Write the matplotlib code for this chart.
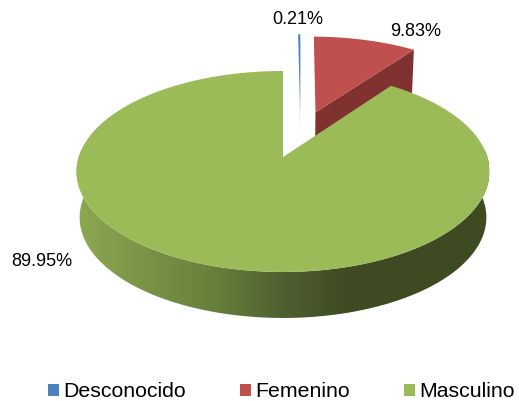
import numpy as np
import matplotlib
matplotlib.use('Agg')
import matplotlib.pyplot as plt
from matplotlib.patches import Polygon, Rectangle

categories = ['Desconocido', 'Femenino', 'Masculino']
shares = [0.21, 9.83, 89.95]
share_labels = ['0.21%', '9.83%', '89.95%']

colors = ['#4F81BD', '#C0504D', '#9BBB59']
side_colors = ['#4F81BD', '#7F3230', '#9BBB59']
gradient_colors = ['#8CA950', '#7A9348', '#66803B', '#4F6030', '#3E4A22', '#3E4A22', '#3E4A22']

plt.rcParams['font.family'] = ['Liberation Sans', 'DejaVu Sans']

# pixel layout
APEX_X, APEX_Y = 283, 157
SCALE_X, SCALE_Y = 204.3, 98.4
PERSP = 0.144
DEPTH = 46
BOTTOM_SHRINK = 0.985
explode = [(0.09, 0.52), (0.17, 0.485), (0.0, 0.0)]
side_depth = [14, DEPTH, DEPTH]


def project(u, v):
    # unit circle in the pie plane -> picture, with some perspective
    d = 1 + PERSP * v
    return APEX_X + SCALE_X * u / d, APEX_Y - SCALE_Y * v / d


def rim(start, end, off, n=200):
    # angles in degrees, clockwise from the top
    t = np.radians(np.linspace(start, end, n))
    return project(off[0] + np.sin(t), off[1] + np.cos(t))


def lower(x, y, depth):
    return APEX_X + (x - APEX_X) * BOTTOM_SHRINK, y + depth


fig = plt.figure(figsize=(5.19, 4.01), dpi=100)
ax = fig.add_axes([0, 0, 1, 1])
ax.set_xlim(0, 519)
ax.set_ylim(401, 0)
ax.axis('off')

angles = np.cumsum([0] + shares) / sum(shares) * 360

# exploded slices first, the big one sits in front of them
for i in [1, 0]:
    off = explode[i]
    x, y = rim(angles[i], angles[i + 1], off)
    ax_, ay_ = project(off[0], off[1])
    # cut face on the far side of the slice
    bx, by = lower(x[-1], y[-1], side_depth[i])
    cx, cy = lower(ax_, ay_, side_depth[i])
    ax.add_patch(Polygon([(ax_, ay_), (x[-1], y[-1]), (bx, by), (cx, cy)],
                         closed=True, fc=side_colors[i], ec='none', zorder=2))
    ax.add_patch(Polygon(np.r_[[[ax_, ay_]], np.c_[x, y]], closed=True,
                         fc=colors[i], ec='none', zorder=3))

# side of the big slice, shaded from left to right
x, y = rim(80, 280, explode[2])
bx, by = lower(x, y, DEPTH)
side_path = Polygon(np.r_[np.c_[bx, by], np.c_[x, y][::-1]], closed=True,
                    fc='none', ec='none', zorder=4)
ax.add_patch(side_path)
grad_cmap = matplotlib.colors.LinearSegmentedColormap.from_list('side', gradient_colors)
grad = ax.imshow(np.linspace(0, 1, 256).reshape(1, -1), cmap=grad_cmap, aspect='auto',
                 extent=(76, 489, 340, 150), zorder=4)
grad.set_clip_path(side_path)
ax.set_xlim(0, 519)
ax.set_ylim(401, 0)

# top of the big slice
x, y = rim(angles[2], angles[3], explode[2], n=500)
ax.add_patch(Polygon(np.r_[[[APEX_X, APEX_Y]], np.c_[x, y]], closed=True,
                     fc=colors[2], ec='none', zorder=5))

# value labels
label_pos = [(298, 20), (416, 31), (42, 261)]
for txt, (lx, ly) in zip(share_labels, label_pos):
    ax.text(lx, ly, txt, fontsize=13, color='black', ha='center', va='center', zorder=6)

# legend
legend_x = [48, 240, 404]
for name, col, lx in zip(categories, colors, legend_x):
    ax.add_patch(Rectangle((lx, 384), 11, 12, fc=col, ec='none'))
    ax.text(lx + 15, 397, name, fontsize=15.3, color='black', ha='left', va='baseline')

plt.savefig('out.png', dpi=100)
